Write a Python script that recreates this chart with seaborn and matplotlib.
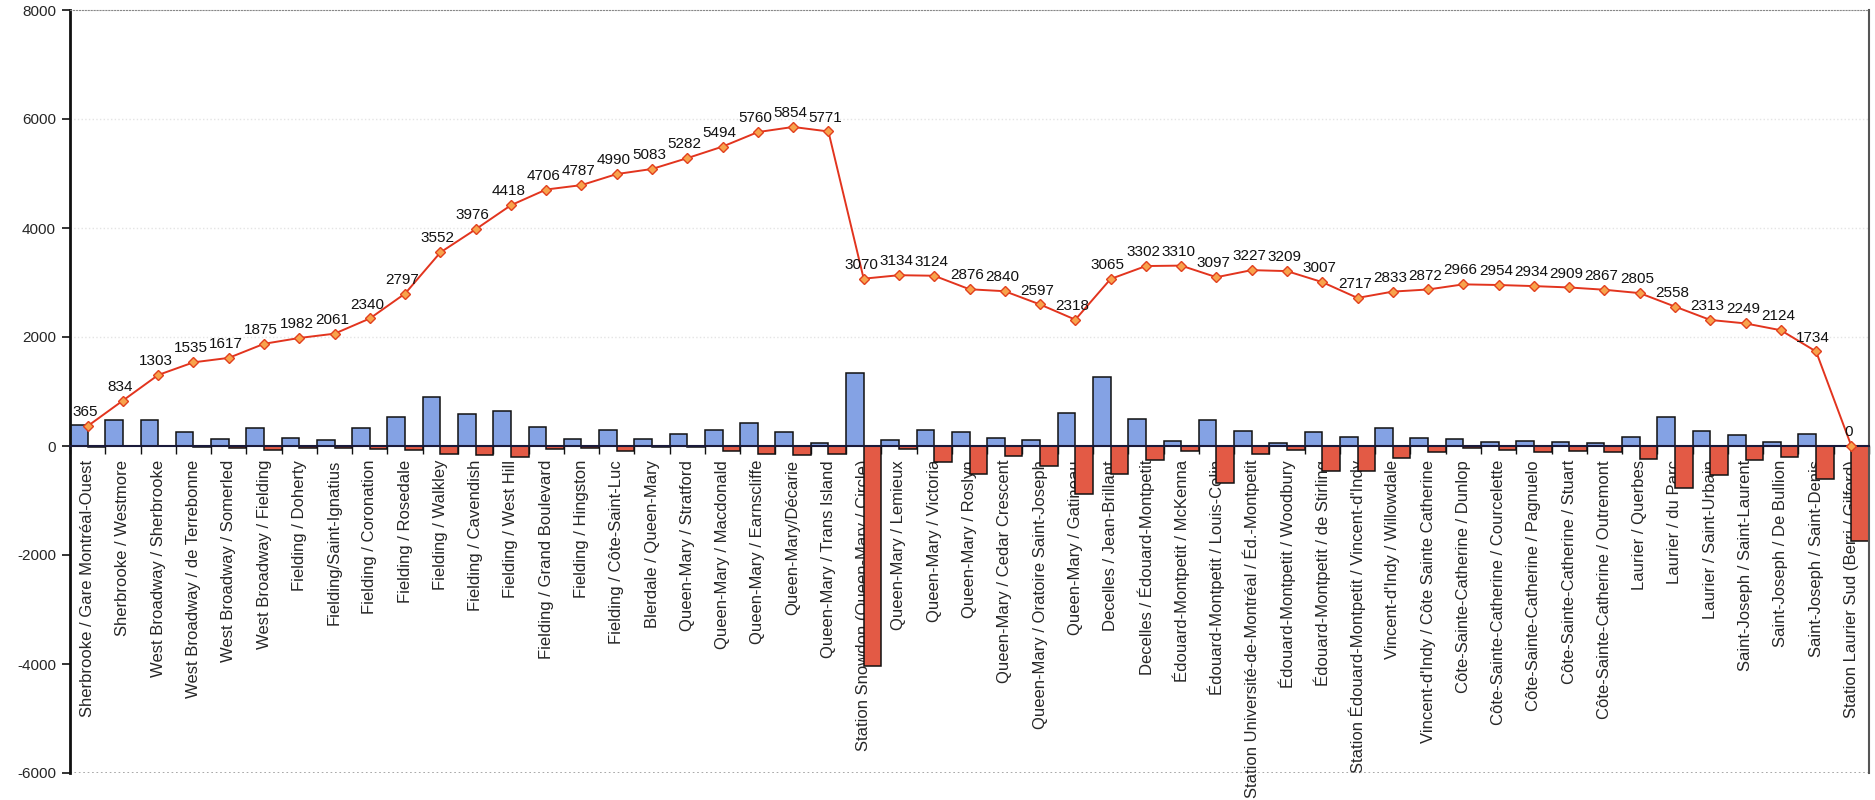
import numpy as np
import pandas as pd
import matplotlib
matplotlib.use("Agg")
import matplotlib.pyplot as plt
import seaborn as sns

# stops along the route, in order
stations = [
    "Sherbrooke / Gare Montréal-Ouest",
    "Sherbrooke / Westmore",
    "West Broadway / Sherbrooke",
    "West Broadway / de Terrebonne",
    "West Broadway / Somerled",
    "West Broadway / Fielding",
    "Fielding / Doherty",
    "Fielding/Saint-Ignatius",
    "Fielding / Coronation",
    "Fielding / Rosedale",
    "Fielding / Walkley",
    "Fielding / Cavendish",
    "Fielding / West Hill",
    "Fielding / Grand Boulevard",
    "Fielding / Hingston",
    "Fielding / Côte-Saint-Luc",
    "Blerdale / Queen-Mary",
    "Queen-Mary / Stratford",
    "Queen-Mary / Macdonald",
    "Queen-Mary / Earnscliffe",
    "Queen-Mary/Décarie",
    "Queen-Mary / Trans Island",
    "Station Snowdon (Queen-Mary / Circle)",
    "Queen-Mary / Lemieux",
    "Queen-Mary / Victoria",
    "Queen-Mary / Roslyn",
    "Queen-Mary / Cedar Crescent",
    "Queen-Mary / Oratoire Saint-Joseph",
    "Queen-Mary / Gatineau",
    "Decelles / Jean-Brillant",
    "Decelles / Édouard-Montpetit",
    "Édouard-Montpetit / McKenna",
    "Édouard-Montpetit / Louis-Colin",
    "Station Université-de-Montréal / Éd.-Montpetit",
    "Édouard-Montpetit / Woodbury",
    "Édouard-Montpetit / de Stirling",
    "Station Édouard-Montpetit / Vincent-d'Indy",
    "Vincent-d'Indy / Willowdale",
    "Vincent-d'Indy / Côte Sainte Catherine",
    "Côte-Sainte-Catherine / Dunlop",
    "Côte-Sainte-Catherine / Courcelette",
    "Côte-Sainte-Catherine / Pagnuelo",
    "Côte-Sainte-Catherine / Stuart",
    "Côte-Sainte-Catherine / Outremont",
    "Laurier / Querbes",
    "Laurier / du Parc",
    "Laurier / Saint-Urbain",
    "Saint-Joseph / Saint-Laurent",
    "Saint-Joseph / De Bullion",
    "Saint-Joseph / Saint-Denis",
    "Station Laurier Sud (Berri / Gilford)",
]

# boardings (blue) and alightings (red, drawn below zero)
montees = [380, 475, 475, 259, 123, 333, 142, 111, 333, 524, 900, 580, 650, 340,
           123, 290, 120, 225, 300, 420, 250, 55, 1339, 110, 290, 259, 150, 115,
           610, 1260, 500, 100, 470, 280, 60, 250, 170, 330, 145, 135, 65, 85,
           65, 60, 170, 530, 280, 200, 75, 215, 0]
descentes = [15, 6, 6, 27, 41, 75, 35, 32, 54, 67, 145, 156, 208, 52, 42, 87,
             27, 26, 88, 154, 156, 138, 4040, 46, 300, 507, 186, 358, 889, 513,
             263, 92, 683, 150, 78, 452, 460, 214, 106, 41, 77, 105, 90, 102,
             232, 777, 525, 264, 200, 605, 1734]

# passengers on board after each stop
charge = [365, 834, 1303, 1535, 1617, 1875, 1982, 2061, 2340, 2797, 3552, 3976,
          4418, 4706, 4787, 4990, 5083, 5282, 5494, 5760, 5854, 5771, 3070, 3134,
          3124, 2876, 2840, 2597, 2318, 3065, 3302, 3310, 3097, 3227, 3209, 3007,
          2717, 2833, 2872, 2966, 2954, 2934, 2909, 2867, 2805, 2558, 2313, 2249,
          2124, 1734, 0]

bars = pd.DataFrame({
    "station": stations * 2,
    "type": ["Montées"] * len(stations) + ["Descentes"] * len(stations),
    "valeur": montees + [-d for d in descentes],
})

sns.set_style("white")
plt.rcParams["font.family"] = ["Liberation Sans", "DejaVu Sans"]
plt.rcParams["axes.unicode_minus"] = False

fig = plt.figure(figsize=(18.75, 8), dpi=100)
ax = fig.add_axes([70 / 1875, 27 / 800, 1799 / 1875, 763 / 800])

sns.barplot(data=bars, x="station", y="valeur", hue="type", order=stations,
            hue_order=["Montées", "Descentes"],
            palette={"Montées": "#84a2e4", "Descentes": "#e35a45"},
            saturation=1, width=1.0, edgecolor="#111111", linewidth=1.1,
            legend=False, errorbar=None, ax=ax, zorder=2)

sns.pointplot(x=stations, y=charge, order=stations, color="#e2341e",
              markers="D", linestyles="-", errorbar=None, ax=ax,
              linewidth=1.4, markersize=5, markerfacecolor="#f7a34c",
              markeredgecolor="#e2401e", markeredgewidth=1.0, zorder=4)

for i, v in enumerate(charge):
    ax.annotate(str(v), (i, v), xytext=(-2, 5), textcoords="offset points",
                ha="center", va="bottom", fontsize=11, color="#111111", zorder=5)

ax.set_xlim(-0.5, len(stations) - 0.5)
ax.set_ylim(-6000, 8000)
ax.set_yticks(np.arange(-6000, 8001, 2000))
ax.set_xlabel("")
ax.set_ylabel("")

# category axis sits on zero, labels hang below it
ax.spines["bottom"].set_position(("data", 0))
ax.spines["bottom"].set_color("#1a1a3a")
ax.spines["bottom"].set_linewidth(1.5)
ax.spines["bottom"].set_zorder(3)
ax.set_xticks(range(len(stations)))
ax.set_xticklabels(stations, rotation=90, fontsize=12)
ax.set_xticks(np.arange(-0.5, len(stations), 1), minor=True)
ax.tick_params(axis="x", which="major", length=0, pad=10)
ax.tick_params(axis="x", which="minor", length=6, width=1, color="#111111",
               direction="out", bottom=True)
ax.tick_params(axis="y", length=6, width=1.2, color="#111111", direction="out",
               left=True, labelsize=11, pad=4)

ax.spines["left"].set_color("#111111")
ax.spines["left"].set_linewidth(2)
ax.spines["top"].set_color("#888888")
ax.spines["top"].set_linestyle(":")
ax.spines["right"].set_color("#555555")
ax.spines["right"].set_linewidth(1.5)
ax.axhline(-6000, color="#999999", linestyle=":", linewidth=1.2)

for y in [2000, 4000, 6000]:
    ax.axhline(y, color="#e4e4e4", linestyle=":", linewidth=1, zorder=0)

fig.savefig("out.png", dpi=100)
